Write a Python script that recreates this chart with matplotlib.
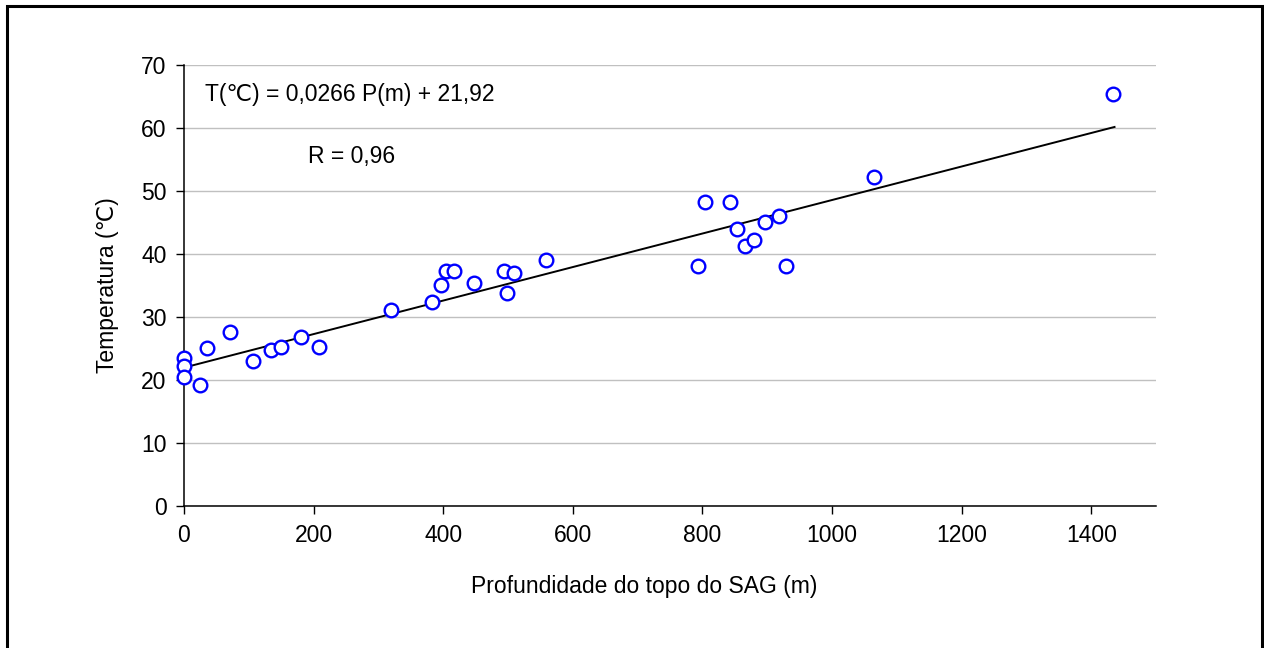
import numpy as np
import matplotlib
matplotlib.use("Agg")
import matplotlib.pyplot as plt
from matplotlib.patches import Rectangle

plt.rcParams['font.family'] = ['Liberation Sans', 'DejaVu Sans']

# ---------------------------
# Datos
# ---------------------------
profundidade = [0, 0, 0, 24, 35, 71, 107, 135, 150, 180, 208,
                319, 383, 397, 404, 417, 447, 494, 498, 509, 559,
                793, 804, 843, 854, 865, 879, 896, 918, 929, 1065, 1434]
temperatura = [23.5, 22.2, 20.4, 19.2, 25.0, 27.5, 23.0, 24.7, 25.2, 26.7, 25.2,
               31.0, 32.4, 35.0, 37.2, 37.2, 35.3, 37.2, 33.8, 37.0, 39.0,
               38.1, 48.2, 48.2, 43.9, 41.3, 42.2, 45.0, 46.0, 38.1, 52.2, 65.3]

coef_a = 0.0266
coef_b = 21.92
x_fit = np.array([0, 1436])

x_ticks = [0, 200, 400, 600, 800, 1000, 1200, 1400]
y_ticks = [0, 10, 20, 30, 40, 50, 60, 70]

# ---------------------------
# Figura
# ---------------------------
W, H = 1264, 648
fs = 16.5
fig = plt.figure(figsize=(W / 100, H / 100), dpi=100)
ax_l, ax_r, ax_t, ax_b = 184, 1156, 64.7, 505.7
ax = fig.add_axes([ax_l / W, 1 - ax_b / H, (ax_r - ax_l) / W, (ax_b - ax_t) / H])

ax.plot(x_fit, coef_a * x_fit + coef_b, color='black', lw=1.4, zorder=3)
ax.plot(profundidade, temperatura, linestyle='none', marker='o', markersize=9.8,
        markerfacecolor='white', markeredgecolor='#0000ff', markeredgewidth=1.7,
        zorder=4, clip_on=False)

ax.set_xlim(0, 1500)
ax.set_ylim(0, 70)
ax.set_xticks(x_ticks)
ax.set_yticks(y_ticks)
ax.grid(axis='y', color='#c0c0c0', lw=1.0)
ax.set_axisbelow(True)

for s in ['top', 'right']:
    ax.spines[s].set_visible(False)
for s in ['left', 'bottom']:
    ax.spines[s].set_linewidth(1.1)
ax.tick_params(axis='both', direction='out', length=5.5, width=1.0, labelsize=fs)
ax.tick_params(axis='x', pad=8)
ax.tick_params(axis='y', pad=7)

ax.set_xlabel('Profundidade do topo do SAG (m)', fontsize=fs)
ax.xaxis.set_label_coords((644 - ax_l) / (ax_r - ax_l), -(587 - ax_b) / (ax_b - ax_t))
ax.xaxis.label.set_va('center')
ax.set_ylabel('Temperatura (℃)', fontsize=fs, labelpad=16)

fig.text(205 / W, 1 - 95 / H, 'T(℃) = 0,0266 P(m) + 21,92', fontsize=fs, va='center', ha='left')
fig.text(308 / W, 1 - 156 / H, 'R = 0,96', fontsize=fs, va='center', ha='left')

# Marco exterior
fig.patches.append(Rectangle((7 / W, -0.05), (1261.5 - 7) / W, 1.05 - 6.5 / H,
                             transform=fig.transFigure, fill=False, lw=2.2,
                             edgecolor='black'))

fig.savefig('out.png', dpi=100)
